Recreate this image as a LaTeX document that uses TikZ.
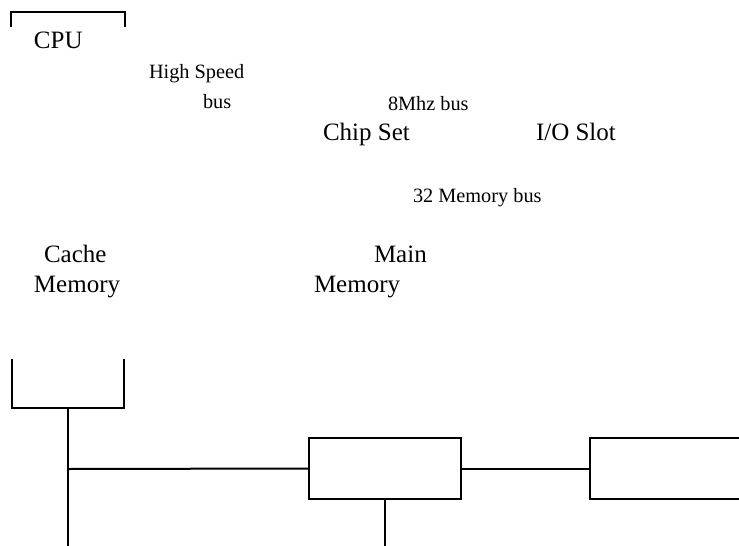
\documentclass[tikz,border=0pt]{standalone}
\usepackage{fontspec}
\setmainfont{Liberation Serif}

\begin{document}
\begin{tikzpicture}[x=1pt, y=-1pt, line width=2pt,
        bigtext/.style={anchor=base west, inner sep=0pt, font=\fontsize{25}{30}\selectfont},
        smalltext/.style={anchor=base west, inner sep=0pt, font=\fontsize{20.3}{24}\selectfont},
        busbox/.style={draw, rectangle, minimum height=61pt, inner sep=0pt}]
        \clip (0,0) rectangle (739,546);
        \fill[white] (0,0) rectangle (739,546);

        % Draw labels
        \node[bigtext] (cpu) at (33,48) {CPU};
        \node[smalltext] (highspeed) at (148,78) {High Speed};
        \node[smalltext] (hsbus) at (202,108) {bus};
        \node[smalltext] (mhzbus) at (387,110) {8Mhz bus};
        \node[bigtext] (chipset) at (322,140) {Chip Set};
        \node[bigtext] (ioslot) at (535,140) {I/O Slot};
        \node[smalltext] (membus) at (412,202) {32 Memory bus};
        \node[bigtext] (cacheA) at (43,262) {Cache};
        \node[bigtext] (cacheB) at (33,292) {Memory};
        \node[bigtext] (mainA) at (373,262) {Main};
        \node[bigtext] (mainB) at (313,292) {Memory};

        % Draw boxes
        \draw (11,27) |- (125,12) -- (125,27);
        \draw (12,359) |- (124,408) -- (124,359);
        \node[busbox, minimum width=152pt] (chipbox) at (385,468.5) {};
        \node[busbox, minimum width=300pt] (iobox) at (740,468.5) {};

        % Draw connections
        \coordinate (cachebot) at (68,408);
        \coordinate (cacheend) at (68,546);
        \coordinate (busjoin) at (68,469);
        \coordinate (memend) at (385,546);
        \draw (cachebot) -- (cacheend);
        \draw (busjoin) -- (chipbox.west);
        \draw (chipbox.east) -- (iobox.west);
        \draw (chipbox.south) -- (memend);
    \end{tikzpicture}
\end{document}
